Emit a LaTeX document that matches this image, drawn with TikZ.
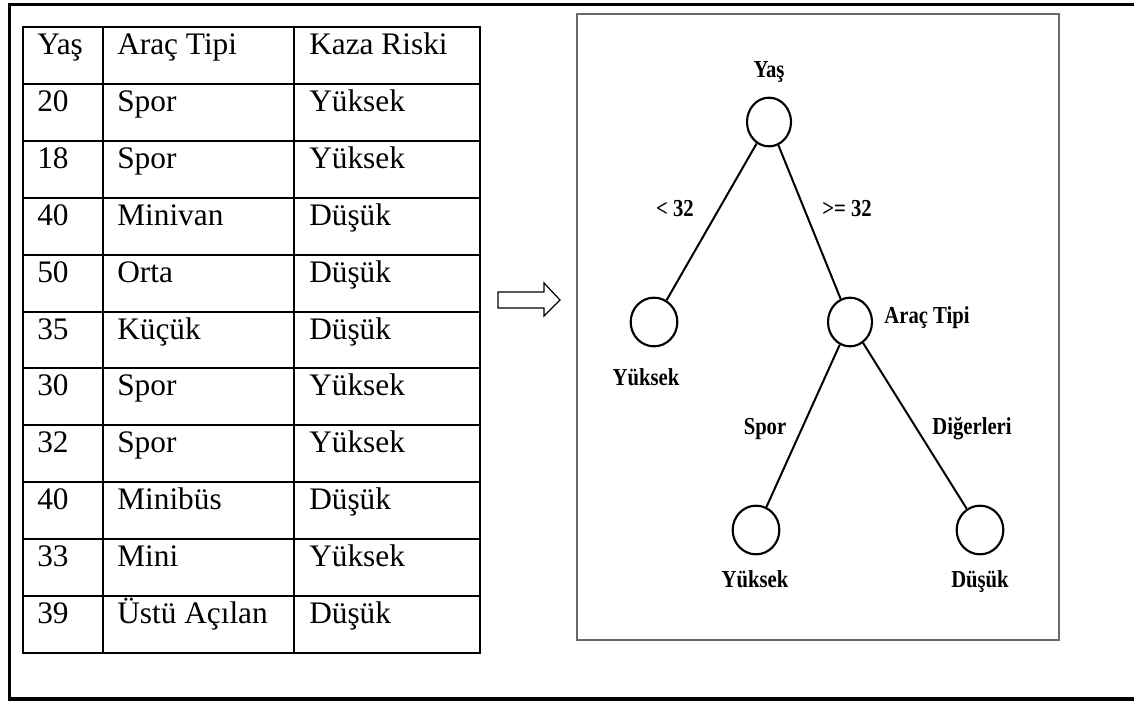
\documentclass[tikz,border=0pt]{standalone}
\usepackage{fontspec}
\usepackage{graphicx}
\setmainfont{Liberation Serif}
\usetikzlibrary{shapes.geometric}

% tall bold labels of the tree
\newcommand{\tlbl}[1]{\scalebox{1}[1.18]{#1}}

\tikzset{
  cell/.style={anchor=base west, inner sep=0pt, font=\fontsize{23.5}{28}\selectfont},
  treenode/.style={draw, ellipse, inner sep=0pt, minimum width=33pt, minimum height=36.5pt, line width=1.6pt},
  treelabel/.style={anchor=base, inner sep=0pt, font=\bfseries\fontsize{15.5}{18}\selectfont},
  branch/.style={line width=1.5pt}
}

\begin{document}
\begin{tikzpicture}[x=0.75pt,y=0.75pt,yscale=-1,xscale=1]
	\useasboundingbox (0,0) rectangle (1134,704);

	%Outer frame
	\draw [line width=2.6pt] (1134,4.5) -| (9.5,699) -- (1134,699);

	%Table grid
	\foreach \r in {0,...,11}
		\draw [line width=1.5pt] (23,27+56.9*\r) -- (480,27+56.9*\r);
	\foreach \c in {23,103,294,480}
		\draw [line width=1.5pt] (\c,26) -- (\c,654);

	%Table cells
	\foreach \a/\b/\k [count=\i from 0] in {Yaş/Araç Tipi/Kaza Riski, 20/Spor/Yüksek, 18/Spor/Yüksek,
		40/Minivan/Düşük, 50/Orta/Düşük, 35/Küçük/Düşük, 30/Spor/Yüksek, 32/Spor/Yüksek,
		40/Minibüs/Düşük, 33/Mini/Yüksek, 39/Üstü Açılan/Düşük}
	{
		\node (yas\i) at (37,54.5+56.9*\i) [cell] {\a};
		\node (tip\i) at (117,54.5+56.9*\i) [cell] {\b};
		\node (risk\i) at (309,54.5+56.9*\i) [cell] {\k};
	}

	%Block arrow
	\draw [line width=0.9pt] (498,292) -- (544,292) -- (544,283) -- (560,300) -- (544,316) -- (544,308) -- (498,308) -- cycle;

	%Tree frame
	\draw [color={rgb, 255:red, 105; green, 105; blue, 105}, line width=1.8pt] (577,14) rectangle (1059,640);

	%Tree nodes
	\node (root) at (769,122) [treenode] {};
	\node (young) at (654,322) [treenode, minimum width=35pt] {};
	\node (type) at (850,322) [treenode] {};
	\node (sport) at (756,530) [treenode, minimum width=35pt] {};
	\node (other) at (980,530) [treenode, minimum width=35pt] {};

	%Branches
	\draw [branch] (root) -- (young);
	\draw [branch] (root) -- (type);
	\draw [branch] (type) -- (sport);
	\draw [branch] (type) -- (other);

	% Text Node
	\node (rootlbl) at (769,77) [treelabel] {\tlbl{Yaş}};
	% Text Node
	\node (lt) at (675,216) [treelabel] {\tlbl{< 32}};
	% Text Node
	\node (ge) at (847,216) [treelabel] {\tlbl{>= 32}};
	% Text Node
	\node (typelbl) at (927,323) [treelabel] {\tlbl{Araç Tipi}};
	% Text Node
	\node (younglbl) at (646,385) [treelabel] {\tlbl{Yüksek}};
	% Text Node
	\node (sportlbl) at (765,434) [treelabel] {\tlbl{Spor}};
	% Text Node
	\node (otherlbl) at (972,434) [treelabel] {\tlbl{Diğerleri}};
	% Text Node
	\node (highlbl) at (755,587) [treelabel] {\tlbl{Yüksek}};
	% Text Node
	\node (lowlbl) at (980,587) [treelabel] {\tlbl{Düşük}};
\end{tikzpicture}
\end{document}
